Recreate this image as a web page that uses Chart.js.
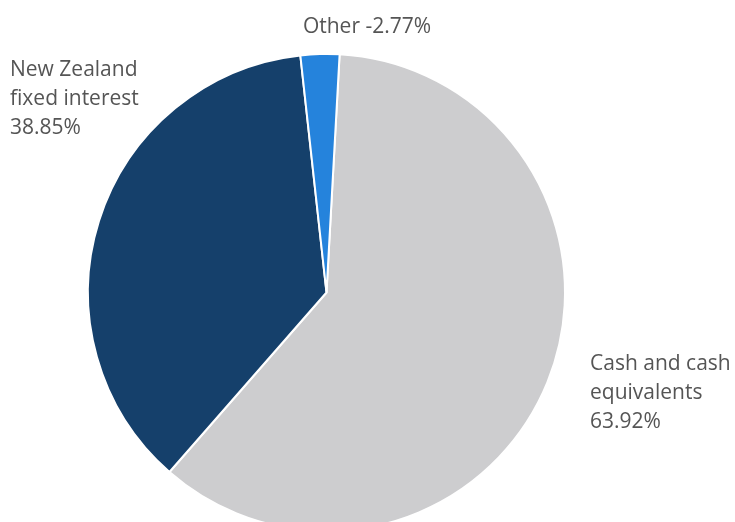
<!DOCTYPE html>
<html>
<head>
<meta charset="utf-8">
<script src="https://cdn.jsdelivr.net/npm/chart.js@4/dist/chart.umd.min.js"></script>
<style>
  html, body { margin: 0; padding: 0; background: #fff; overflow: hidden; }
  #wrap { position: relative; width: 735px; height: 560px; }
</style>
</head>
<body>
<div id="wrap"><canvas id="pieChart"></canvas></div>
<script>
// data
const categories = ['Cash and cash equivalents', 'New Zealand fixed interest', 'Other'];
const shares = [63.92, 38.85, -2.77];
const sliceColors = ['#cdcdcf', '#15406b', '#2583dc'];

// label text lines per slice
const labelLines = [
    ['Cash and cash', 'equivalents', shares[0].toFixed(2) + '%'],
    ['New Zealand', 'fixed interest', shares[1].toFixed(2) + '%'],
    ['Other ' + shares[2].toFixed(2) + '%']
];

// where each label block sits (x, first baseline y, align)
const labelPos = [
    { x: 590, y: 370, align: 'left' },
    { x: 10, y: 76, align: 'left' },
    { x: 367, y: 33, align: 'center' }
];

const outsideLabels = {
    id: 'outsideLabels',
    afterDraw(chart) {
        const ctx = chart.ctx;
        ctx.save();
        ctx.font = '21px "Open Sans", sans-serif';
        ctx.fillStyle = '#555555';
        ctx.textBaseline = 'alphabetic';
        labelLines.forEach((lines, i) => {
            const p = labelPos[i];
            ctx.textAlign = p.align;
            lines.forEach((txt, j) => {
                ctx.fillText(txt, p.x, p.y + j * 29);
            });
        });
        ctx.restore();
    }
};

const ctx = document.getElementById('pieChart').getContext('2d');
new Chart(ctx, {
    type: 'pie',
    data: {
        labels: categories,
        datasets: [{
            data: shares,
            backgroundColor: sliceColors,
            borderColor: '#ffffff',
            borderWidth: 2
        }]
    },
    options: {
        responsive: true,
        maintainAspectRatio: false,
        animation: false,
        rotation: 3.15,
        layout: {
            padding: { left: 87, right: 169, top: 53, bottom: 28 }
        },
        plugins: {
            legend: { display: false },
            tooltip: { enabled: false }
        }
    },
    plugins: [outsideLabels]
});
</script>
</body>
</html>
